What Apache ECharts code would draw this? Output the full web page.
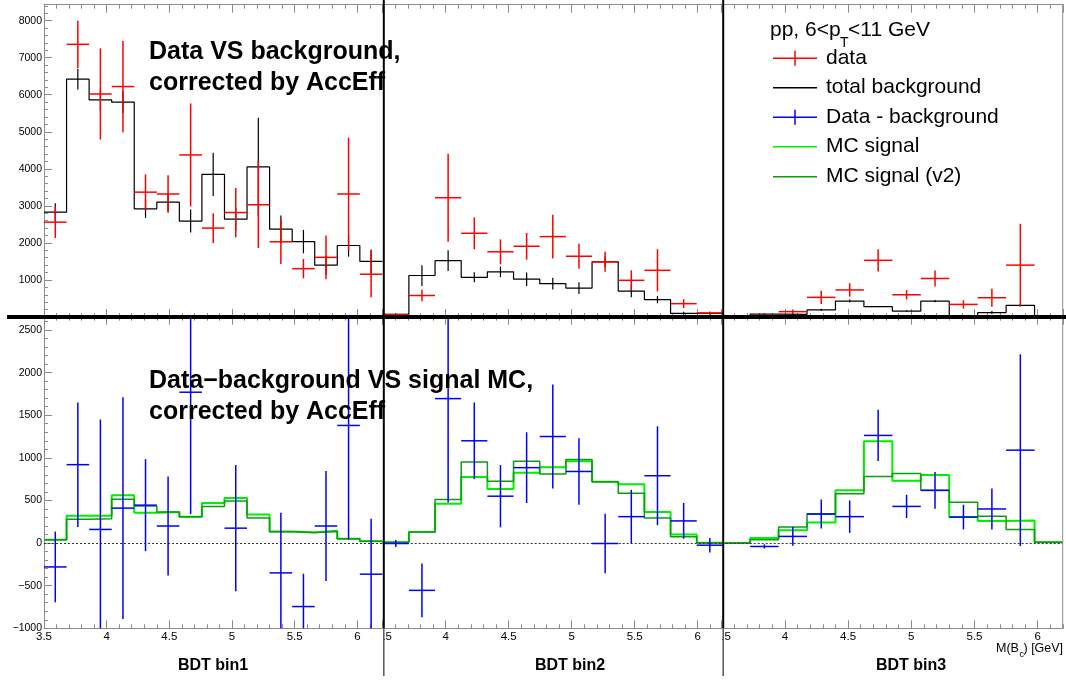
<!DOCTYPE html>
<html><head><meta charset="utf-8">
<script src="https://cdn.jsdelivr.net/npm/echarts@6/dist/echarts.min.js"></script>
<style>html,body{margin:0;padding:0;background:#fff}#c{width:1066px;height:682px}</style>
</head><body><div id="c"></div>
<script>
// ---------------- data ----------------
const massMin = 3.5, massMax = 6.2;
const binCounts = [15, 13, 12];
const panelNames = ['BDT bin1', 'BDT bin2', 'BDT bin3'];

// BDT bin1 (15 bins)
const data1    = [2560, 7360, 6020, 6220, 3370, 3320, 4375, 2400, 2820, 3030, 2030, 1305, 1610, 3320, 1155];
const dataErr1 = [425, 640, 1230, 1230, 480, 505, 1390, 400, 665, 1170, 600, 260, 590, 1520, 620];
const bkg1     = [2830, 6420, 5860, 5800, 2920, 3100, 2590, 3850, 2640, 4050, 2370, 2035, 1400, 1930, 1500];
const bkgErr1  = [240, 280, 300, 300, 245, 250, 310, 585, 300, 1330, 370, 315, 250, 300, 325];
const sub1     = [-280, 920, 160, 410, 445, 200, 1770, -1450, 175, -1020, -350, -745, 200, 1380, -365];
const subErr1  = [415, 730, 1290, 1300, 540, 580, 1430, 700, 740, 1770, 705, 385, 645, 1340, 650];
const mc1      = [40, 320, 320, 560, 355, 365, 310, 470, 530, 335, 135, 125, 145, 50, 20];
const mcV2_1   = [40, 280, 285, 515, 435, 365, 310, 430, 495, 295, 133, 125, 135, 50, 20];

// BDT bin2 (13 bins)
const data2    = [65, 580, 3220, 2260, 1760, 1910, 2170, 1640, 1490, 990, 1260, 360, 110];
const dataErr2 = [30, 155, 1190, 430, 335, 360, 590, 340, 270, 270, 570, 120, 40];
const bkg2     = [70, 1120, 1520, 1070, 1220, 1020, 900, 780, 1490, 700, 470, 100, 100];
const bkgErr2  = [20, 280, 280, 135, 145, 180, 160, 160, 150, 170, 100, 40, 30];
const sub2     = [-5, -555, 1695, 1200, 550, 885, 1250, 840, -5, 310, 790, 260, -25];
const subErr2  = [40, 315, 1220, 450, 365, 415, 610, 390, 350, 315, 580, 210, 85];
const mc2      = [10, 130, 460, 775, 635, 825, 890, 960, 720, 690, 365, 100, 5];
const mcV2_2   = [10, 130, 510, 950, 725, 960, 810, 980, 720, 585, 295, 75, 5];

// BDT bin3 (12 bins)
const data3    = [null, 40, 145, 530, 730, 1530, 600, 1040, 340, 520, 1400, null];
const dataErr3 = [0, 30, 60, 180, 180, 300, 125, 215, 115, 245, 1115, 0];
const bkg3     = [0, 80, 70, 190, 430, 280, 160, 430, 35, 120, 315, 0];
const bkgErr3  = [0, 20, 25, 30, 40, 20, 20, 30, 20, 40, 30, 0];
const sub3     = [null, -40, 78, 340, 310, 1263, 430, 618, 305, 400, 1090, null];
const subErr3  = [0, 25, 110, 170, 190, 300, 137, 215, 145, 240, 1125, 0];
const mc3      = [0, 59, 150, 240, 620, 1195, 730, 800, 305, 260, 265, 10];
const mcV2_3   = [0, 40, 190, 345, 580, 780, 815, 620, 480, 315, 160, 10];

const dataP = [data1, data2, data3], dataErrP = [dataErr1, dataErr2, dataErr3];
const bkgP = [bkg1, bkg2, bkg3], bkgErrP = [bkgErr1, bkgErr2, bkgErr3];
const subP = [sub1, sub2, sub3], subErrP = [subErr1, subErr2, subErr3];
const mcP = [mc1, mc2, mc3], mcV2P = [mcV2_1, mcV2_2, mcV2_3];

const topYTicks = {min: 0, max: 8430, major: 1000, minor: 200};
const botYTicks = {min: -1000, max: 2656, major: 500, minor: 100};

// ---------------- layout / style ----------------
const FONT = '"Liberation Sans", Arial, Helvetica, sans-serif';
const AX = '#8c8c8c';
const gridX = [{left: 44, width: 338.4}, {left: 382.7, width: 340.2}, {left: 721.7, width: 341.3}];
const gridRows = [{top: 4.7, height: 312.3}, {top: 316.7, height: 311.6}];
const RED = '#ff0000', BLUE = '#0000ff', LGREEN = '#00ee00', DGREEN = '#119a11';

function edges(n) { const w = (massMax - massMin) / n; const e = []; for (let i = 0; i <= n; i++) e.push(massMin + i * w); return e; }
function histPts(vals) { const e = edges(vals.length); const pts = vals.map((v, i) => [e[i], v]); pts.push([e[vals.length], vals[vals.length - 1]]); return pts; }
function errPts(vals, errs, withH) {
  const n = vals.length, w = (massMax - massMin) / n, out = [];
  vals.forEach((v, i) => { if (v === null) return; out.push([massMin + (i + 0.5) * w, v, errs[i], withH ? w / 2 : 0]); });
  return out;
}
function errRenderer(color, lw) {
  return function (params, api) {
    const x = api.value(0), y = api.value(1), e = api.value(2), hw = api.value(3);
    const cs = params.coordSys, top = cs.y, bot = cs.y + cs.height;
    const c = api.coord([x, y]);
    if (!(c[1] >= top - 0.5 && c[1] <= bot + 0.5)) return {type: 'group', children: []};
    const yHi = Math.max(top, api.coord([x, y + e])[1]);
    const yLo = Math.min(bot, api.coord([x, y - e])[1]);
    const ch = [{type: 'line', shape: {x1: c[0], y1: yHi, x2: c[0], y2: yLo}, style: {stroke: color, lineWidth: lw}}];
    if (hw > 0) {
      const l = api.coord([x - hw, y])[0], r = api.coord([x + hw, y])[0];
      ch.push({type: 'line', shape: {x1: l, y1: c[1], x2: r, y2: c[1]}, style: {stroke: color, lineWidth: lw}});
    }
    return {type: 'group', children: ch};
  };
}
const fmtNum = v => String(v).replace('-', '\u2212');

const grids = [], xAxes = [], yAxes = [], series = [];
for (let r = 0; r < 2; r++) {
  for (let p = 0; p < 3; p++) {
    const g = r * 3 + p;
    grids.push({left: gridX[p].left, width: gridX[p].width, top: gridRows[r].top, height: gridRows[r].height, containLabel: false, outerBoundsMode: 'none'});
    const xBase = {gridIndex: g, type: 'value', min: massMin, max: massMax, splitLine: {show: false}};
    xAxes.push(Object.assign({}, xBase, {
      position: 'bottom', interval: 0.5,
      axisLine: {show: true, onZero: false, lineStyle: {color: AX, width: 1}},
      axisTick: {show: true, inside: true, length: 8, lineStyle: {color: AX}},
      axisLabel: {show: r === 1, showMaxLabel: false, margin: 3, fontSize: 11.5, fontFamily: FONT, color: '#000',
        formatter: v => (p > 0 && Math.abs(v - 3.5) < 1e-6) ? '{s|.5}' : fmtNum(v),
        rich: {s: {padding: [0, 0, 0, 9], fontSize: 11.5, fontFamily: FONT, color: '#000'}}}
    }));
    xAxes.push(Object.assign({}, xBase, {
      position: 'bottom', interval: 0.1,
      axisLine: {show: false, onZero: false}, axisLabel: {show: false},
      axisTick: {show: true, inside: true, length: 4, lineStyle: {color: AX}}
    }));
    xAxes.push(Object.assign({}, xBase, {
      position: 'top', interval: 0.5,
      axisLine: {show: true, onZero: false, lineStyle: {color: AX, width: 1}},
      axisTick: {show: true, inside: true, length: 8, lineStyle: {color: AX}},
      axisLabel: {show: false}
    }));
    xAxes.push(Object.assign({}, xBase, {
      position: 'top', interval: 0.1,
      axisLine: {show: false, onZero: false}, axisLabel: {show: false},
      axisTick: {show: true, inside: true, length: 4, lineStyle: {color: AX}}
    }));
    const yt = r === 0 ? topYTicks : botYTicks;
    const showY = p === 0;
    yAxes.push({gridIndex: g, type: 'value', min: yt.min, max: yt.max, interval: yt.major, show: showY, position: 'left',
      splitLine: {show: false},
      axisLine: {show: true, onZero: false, lineStyle: {color: AX, width: 1}},
      axisTick: {show: true, inside: true, length: 8, lineStyle: {color: AX}},
      axisLabel: {show: true, showMinLabel: r === 1, showMaxLabel: false, margin: 2, fontSize: 10.5, fontFamily: FONT, color: '#000', formatter: fmtNum}
    });
    yAxes.push({gridIndex: g, type: 'value', min: yt.min, max: yt.max, interval: yt.minor, show: showY, position: 'left',
      splitLine: {show: false}, axisLine: {show: false, onZero: false}, axisLabel: {show: false},
      axisTick: {show: true, inside: true, length: 4, lineStyle: {color: AX}}
    });
    const xi = 4 * g, yi = 2 * g;
    if (r === 0) {
      series.push({type: 'line', name: 'total background', xAxisIndex: xi, yAxisIndex: yi, data: histPts(bkgP[p]), step: 'end',
        symbol: 'none', lineStyle: {color: '#000', width: 1.2}, z: 3});
      series.push({type: 'custom', name: 'bkg err', xAxisIndex: xi, yAxisIndex: yi, data: errPts(bkgP[p], bkgErrP[p], false),
        renderItem: errRenderer('#000', 1.2), encode: {x: 0, y: 1}, z: 3});
      series.push({type: 'custom', name: 'data', xAxisIndex: xi, yAxisIndex: yi, data: errPts(dataP[p], dataErrP[p], true),
        renderItem: errRenderer(RED, 1.5), encode: {x: 0, y: 1}, z: 4});
    } else {
      series.push({type: 'line', name: 'MC signal', xAxisIndex: xi, yAxisIndex: yi, data: histPts(mcP[p]), step: 'end',
        symbol: 'none', lineStyle: {color: LGREEN, width: 2}, z: 3,
        markLine: {silent: true, symbol: 'none', label: {show: false},
          lineStyle: {color: '#333', type: [2, 2], width: 1}, data: [{yAxis: 0}], animation: false}});
      series.push({type: 'line', name: 'MC signal (v2)', xAxisIndex: xi, yAxisIndex: yi, data: histPts(mcV2P[p]), step: 'end',
        symbol: 'none', lineStyle: {color: DGREEN, width: 1.5}, z: 4});
      series.push({type: 'custom', name: 'Data - background', xAxisIndex: xi, yAxisIndex: yi, data: errPts(subP[p], subErrP[p], true),
        renderItem: errRenderer(BLUE, 1.5), encode: {x: 0, y: 1}, z: 5});
    }
  }
}

function txt(x, y, text, size, opts) {
  opts = opts || {};
  return {type: 'text', x: x, y: y, z: 100, silent: true,
    style: {text: text, fill: opts.color || '#000', fontSize: size, fontFamily: FONT, fontWeight: opts.bold ? 'bold' : 'normal',
      align: opts.align || 'left', verticalAlign: 'middle', textAlign: opts.align || 'left', textVerticalAlign: 'middle'}};
}
function ln(x1, y1, x2, y2, color, w) {
  return {type: 'line', z: 100, silent: true, shape: {x1, y1, x2, y2}, style: {stroke: color, lineWidth: w}};
}

const legendItems = [
  {label: 'data', color: RED, cross: true, y: 58.3},
  {label: 'total background', color: '#000', cross: false, y: 87.7},
  {label: 'Data - background', color: BLUE, cross: true, y: 117.3},
  {label: 'MC signal', color: LGREEN, cross: false, y: 146.7},
  {label: 'MC signal (v2)', color: DGREEN, cross: false, y: 176.7}
];
const gfx = [];
gfx.push(ln(1062.7, 4.7, 1062.7, 628.3, AX, 1));
gfx.push(ln(383.8, 0, 383.8, 628, '#000', 2));
gfx.push(ln(383.8, 628, 383.8, 676, '#555', 1.5));
gfx.push(ln(723.2, 0, 723.2, 628, '#000', 2));
gfx.push(ln(723.2, 628, 723.2, 676, '#555', 1.5));
gfx.push(ln(7, 317, 1066, 317, '#000', 4));
gfx.push(txt(149, 52, 'Data VS background,', 25, {bold: true}));
gfx.push(txt(149, 83, 'corrected by AccEff', 25, {bold: true}));
gfx.push(txt(149, 381, 'Data\u2212background VS signal MC,', 25, {bold: true}));
gfx.push(txt(149, 412, 'corrected by AccEff', 25, {bold: true}));
gfx.push(txt(770, 30, 'pp, 6<p', 21));
gfx.push(txt(840, 43, 'T', 14));
gfx.push(txt(848, 30, '<11 GeV', 21));
legendItems.forEach(it => {
  gfx.push(ln(773, it.y, 817, it.y, it.color, 1.5));
  if (it.cross) gfx.push(ln(795, it.y - 7.5, 795, it.y + 7.5, it.color, 1.5));
  gfx.push(txt(826, it.y, it.label, 21));
});
const binLabelX = [213, 570, 911];
panelNames.forEach((n, i) => gfx.push(txt(binLabelX[i], 666, n, 16, {bold: true, align: 'center'})));
gfx.push(txt(996, 649, 'M(B', 12.5));
gfx.push(txt(1019.5, 655, 'c', 9));
gfx.push(txt(1023.5, 649, ') [GeV]', 12.5));

const chart = echarts.init(document.getElementById('c'), null, {renderer: 'canvas'});
chart.setOption({
  animation: false,
  backgroundColor: '#fff',
  textStyle: {fontFamily: FONT},
  grid: grids, xAxis: xAxes, yAxis: yAxes, series: series,
  graphic: {elements: gfx}
});
</script>
</body></html>
